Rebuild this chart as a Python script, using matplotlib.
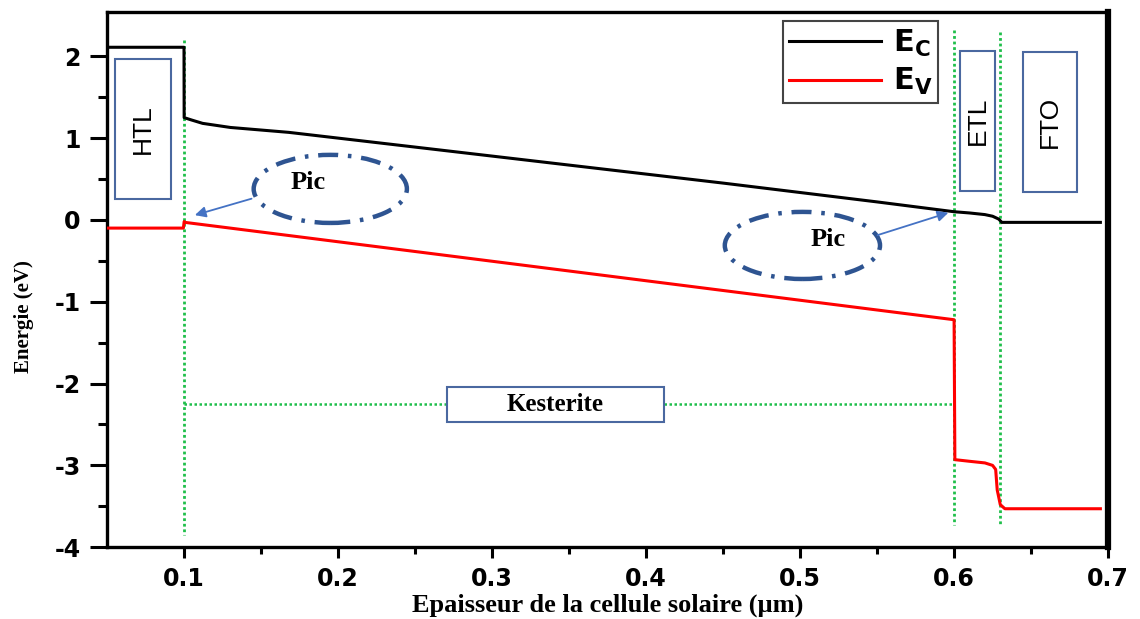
import matplotlib
matplotlib.use('Agg')
import matplotlib.pyplot as plt
from matplotlib.patches import Rectangle, Ellipse

# band edges
x_ec = [0.05, 0.0999, 0.1, 0.105, 0.112, 0.13, 0.168, 0.25, 0.35, 0.45, 0.55, 0.6,
        0.61, 0.62, 0.625, 0.629, 0.631, 0.695]
ec = [2.11, 2.11, 1.25, 1.22, 1.18, 1.13, 1.07, 0.89, 0.67, 0.45, 0.22, 0.10,
      0.085, 0.065, 0.045, 0.01, -0.03, -0.03]

x_ev = [0.05, 0.0995, 0.1, 0.1005, 0.6, 0.6005, 0.61, 0.62, 0.625, 0.627, 0.628, 0.63,
        0.633, 0.695]
ev = [-0.10, -0.10, -0.02, -0.03, -1.22, -2.93, -2.95, -2.97, -3.0, -3.05, -3.3, -3.48,
      -3.53, -3.53]

xticks = [0.1, 0.2, 0.3, 0.4, 0.5, 0.6, 0.7]
yticks = [-4, -3, -2, -1, 0, 1, 2]

box_col = '#4a68a0'
green = '#1fbf4a'

fig = plt.figure(figsize=(11.4, 6.19), dpi=100)
ax = fig.add_axes([0.094, 0.116, 0.878, 0.865])

ax.plot(x_ec, ec, color='black', lw=2.2, label=r'$\mathbf{E}_\mathbf{C}$', zorder=4)
ax.plot(x_ev, ev, color='red', lw=2.2, label=r'$\mathbf{E}_\mathbf{V}$', zorder=4)

# interfaces
dots = (0, (1, 1.0))
ax.plot([0.1, 0.1], [2.2, -3.85], color=green, lw=2, ls=dots, zorder=3)
ax.plot([0.6, 0.6], [2.32, -3.73], color=green, lw=2, ls=dots, zorder=3)
ax.plot([0.63, 0.63], [2.3, -3.73], color=green, lw=2, ls=dots, zorder=3)
ax.plot([0.1, 0.6], [-2.25, -2.25], color=green, lw=1.8, ls=dots, zorder=2)

# layer boxes
def layer_box(x0, x1, y0, y1, txt, rot, **kw):
    ax.add_patch(Rectangle((x0, y0), x1 - x0, y1 - y0, fc='white', ec=box_col,
                           lw=1.5, zorder=5))
    ax.text((x0 + x1) / 2, (y0 + y1) / 2, txt, rotation=rot, ha='center',
            va='center', zorder=6, **kw)

layer_box(0.0551, 0.0915, 0.257, 1.97, 'HTL', 90, fontsize=19, family='Liberation Sans')
layer_box(0.6039, 0.6267, 0.355, 2.067, 'ETL', 90, fontsize=19, family='Liberation Sans')
layer_box(0.6449, 0.680, 0.343, 2.055, 'FTO', 90, fontsize=19, family='Liberation Sans')
layer_box(0.2704, 0.4114, -2.471, -2.043, 'Kesterite', 0, fontsize=18,
          family='Liberation Serif', weight='bold')

# peaks
dash = (0, (4.5, 2.2, 0.8, 2.2))
ax.add_patch(Ellipse((0.1949, 0.379), 0.0995, 0.832, fill=False, ec='#2e5491',
                     lw=3.2, ls=dash, zorder=5))
ax.add_patch(Ellipse((0.5015, -0.312), 0.1008, 0.82, fill=False, ec='#2e5491',
                     lw=3.2, ls=dash, zorder=5))
ax.text(0.1806, 0.453, 'Pic', ha='center', va='center', fontsize=19,
        family='Liberation Serif', weight='bold', zorder=6)
ax.text(0.518, -0.245, 'Pic', ha='center', va='center', fontsize=19,
        family='Liberation Serif', weight='bold', zorder=6)
ax.annotate('', xy=(0.1052, 0.049), xytext=(0.1455, 0.269),
            arrowprops=dict(arrowstyle='-|>', color='#4472c4', lw=1.3,
                            mutation_scale=16), zorder=6)
ax.annotate('', xy=(0.598, 0.098), xytext=(0.5486, -0.196),
            arrowprops=dict(arrowstyle='-|>', color='#4472c4', lw=1.3,
                            mutation_scale=16), zorder=6)

ax.set_xlim(0.05, 0.7)
ax.set_ylim(-4, 2.544)
ax.set_xticks(xticks)
ax.set_yticks(yticks)
ax.set_xticks([0.15, 0.25, 0.35, 0.45, 0.55, 0.65], minor=True)
ax.set_yticks([-3.5, -2.5, -1.5, -0.5, 0.5, 1.5], minor=True)
ax.set_xticklabels(['%.1f' % t for t in xticks])
ax.set_yticklabels(['%d' % t for t in yticks])
for lab in ax.get_xticklabels() + ax.get_yticklabels():
    lab.set_family('DejaVu Sans')
    lab.set_weight('bold')
    lab.set_fontsize(17)
ax.tick_params(axis='x', which='major', length=8, width=2.2, pad=6)
ax.tick_params(axis='x', which='minor', length=5, width=2.2)
ax.tick_params(axis='y', which='major', length=12, width=2.2, pad=7)
ax.tick_params(axis='y', which='minor', length=6.5, width=2.2)
for s in ['left', 'bottom', 'top']:
    ax.spines[s].set_linewidth(2.4)
ax.spines['right'].set_linewidth(4.5)

ax.set_xlabel('Epaisseur de la cellule solaire (µm)', family='Liberation Serif',
              weight='bold', fontsize=19, labelpad=2)
ax.set_ylabel('Energie (eV)', family='Liberation Serif', weight='bold',
              fontsize=15)
ax.yaxis.set_label_coords(-0.073, 0.43)

leg = ax.legend(loc='upper left', bbox_to_anchor=(0.675, 0.982), borderaxespad=0,
                fontsize=22, handlelength=3.0, fancybox=False, edgecolor='#444444',
                framealpha=1, borderpad=0.2, labelspacing=0.25, handletextpad=0.4)
leg.get_frame().set_linewidth(1.5)

plt.savefig('out.png')
plt.close()
